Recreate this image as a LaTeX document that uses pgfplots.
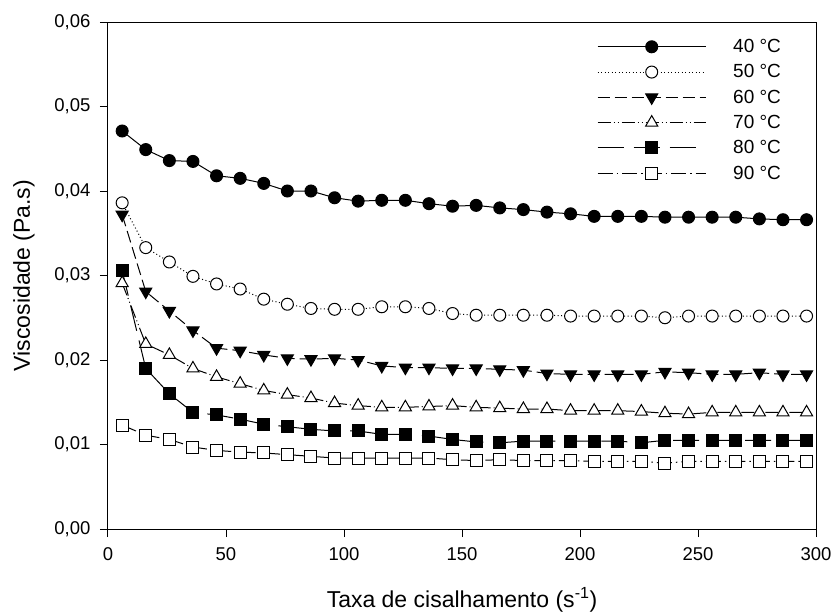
\documentclass[border=0pt]{standalone}
\usepackage{fontspec}
\setmainfont{Liberation Sans}
\usepackage{pgfplots}
\usepackage{pgfplotstable}
\pgfplotsset{compat=1.18}

% viscosity (Pa.s) against shear rate (1/s) at six temperatures
\pgfplotstableread{
x   t40     t50     t60     t70     t80     t90
6   0.0471  0.0386  0.0372  0.0291  0.0306  0.0123
16  0.0449  0.0333  0.0281  0.0219  0.0190  0.0111
26  0.0436  0.0316  0.0258  0.0206  0.0160  0.0106
36  0.0435  0.0299  0.0235  0.0190  0.0138  0.0097
46  0.0418  0.0290  0.0214  0.0180  0.0135  0.0093
56  0.0415  0.0284  0.0211  0.0172  0.0130  0.0091
66  0.0409  0.0272  0.0206  0.0164  0.0124  0.0090
76  0.0400  0.0266  0.0202  0.0159  0.0121  0.0088
86  0.0400  0.0261  0.0201  0.0155  0.0118  0.0086
96  0.0392  0.0260  0.0202  0.0149  0.0116  0.0084
106 0.0388  0.0260  0.0200  0.0146  0.0116  0.0084
116 0.0389  0.0263  0.0193  0.0144  0.0112  0.0084
126 0.0389  0.0263  0.0191  0.0144  0.0112  0.0084
136 0.0385  0.0261  0.0191  0.0145  0.0110  0.0084
146 0.0382  0.0255  0.0190  0.0146  0.0106  0.0082
156 0.0383  0.0253  0.0190  0.0144  0.0103  0.0081
166 0.0380  0.0253  0.0189  0.0143  0.0102  0.0082
176 0.0378  0.0253  0.0188  0.0142  0.0104  0.0081
186 0.0375  0.0253  0.0184  0.0142  0.0104  0.0081
196 0.0373  0.0252  0.0183  0.0140  0.0104  0.0081
206 0.0370  0.0252  0.0183  0.0140  0.0104  0.0080
216 0.0370  0.0252  0.0183  0.0140  0.0104  0.0080
226 0.0370  0.0252  0.0183  0.0139  0.0102  0.0080
236 0.0369  0.0250  0.0186  0.0137  0.0105  0.0078
246 0.0369  0.0252  0.0185  0.0136  0.0105  0.0080
256 0.0369  0.0252  0.0183  0.0138  0.0105  0.0080
266 0.0369  0.0252  0.0183  0.0138  0.0105  0.0080
276 0.0367  0.0252  0.0185  0.0138  0.0105  0.0080
286 0.0366  0.0252  0.0183  0.0138  0.0105  0.0080
296 0.0366  0.0252  0.0183  0.0138  0.0105  0.0080
}\visc

\begin{document}
\begin{tikzpicture}
\path[use as bounding box] (-108pt,-86pt) rectangle (726pt,529pt);
\begin{axis}[
  scale only axis,
  width=708pt, height=507pt,
  xmin=0, xmax=300, ymin=0, ymax=0.06,
  xtick={0,50,...,300},
  ytick={0,0.01,...,0.06},
  scaled y ticks=false,
  tick pos=left,
  tick align=outside,
  major tick length=8pt,
  axis line style={line width=1pt},
  every tick/.style={black, line width=1pt},
  /pgf/number format/assume math mode=true,
  tick label style={font=\fontsize{18.5}{21}\selectfont},
  x tick label style={yshift=-7pt},
  y tick label style={xshift=-6pt, /pgf/number format/.cd, fixed, fixed zerofill, precision=2, use comma, /tikz/.cd},
  every axis x label/.style={at={(axis description cs:0.5,0)}, yshift=-71pt, anchor=center},
  every axis y label/.style={at={(axis description cs:0,0.5)}, xshift=-84pt, rotate=90, anchor=center},
  label style={font=\fontsize{23}{26}\selectfont},
  xlabel={Taxa de cisalhamento (s\textsuperscript{-1})},
  ylabel={Viscosidade (Pa.s)},
  legend image code/.code={
    \draw[mark repeat=2, mark phase=2, #1] plot coordinates {(0pt,0pt) (54pt,0pt) (108pt,0pt)};
  },
  legend style={at={(axis description cs:0.6907,0.970)}, anchor=north west,
    draw=none, fill=none, inner sep=0pt,
    font=\fontsize{19}{22}\selectfont, row sep=6.5pt,
    /tikz/every odd column/.append style={column sep=25pt}},
  legend cell align=left,
  every axis plot/.append style={black, line width=1pt},
]
\addplot[solid, mark=*, mark size=6pt, mark options={solid, fill=black}]
  table[x=x, y=t40] {\visc};
\addlegendentry{40 °C}
\addplot[dash pattern=on 1pt off 2.5pt, mark=*, mark size=6pt, mark options={solid, fill=white}]
  table[x=x, y=t50] {\visc};
\addlegendentry{50 °C}
\addplot[dash pattern=on 12pt off 5pt, mark=triangle*, mark size=7pt, mark options={solid, fill=black, rotate=180}]
  table[x=x, y=t60] {\visc};
\addlegendentry{60 °C}
\addplot[dash pattern=on 13pt off 3pt on 1pt off 3pt on 1pt off 3pt, mark=triangle*, mark size=7pt, mark options={solid, fill=white}]
  table[x=x, y=t70] {\visc};
\addlegendentry{70 °C}
\addplot[dash pattern=on 26pt off 10pt, mark=square*, mark size=6pt, mark options={solid, fill=black}]
  table[x=x, y=t80] {\visc};
\addlegendentry{80 °C}
\addplot[dash pattern=on 15pt off 4pt on 1.5pt off 4pt, mark=square*, mark size=6pt, mark options={solid, fill=white}]
  table[x=x, y=t90] {\visc};
\addlegendentry{90 °C}
\end{axis}
\end{tikzpicture}
\end{document}
